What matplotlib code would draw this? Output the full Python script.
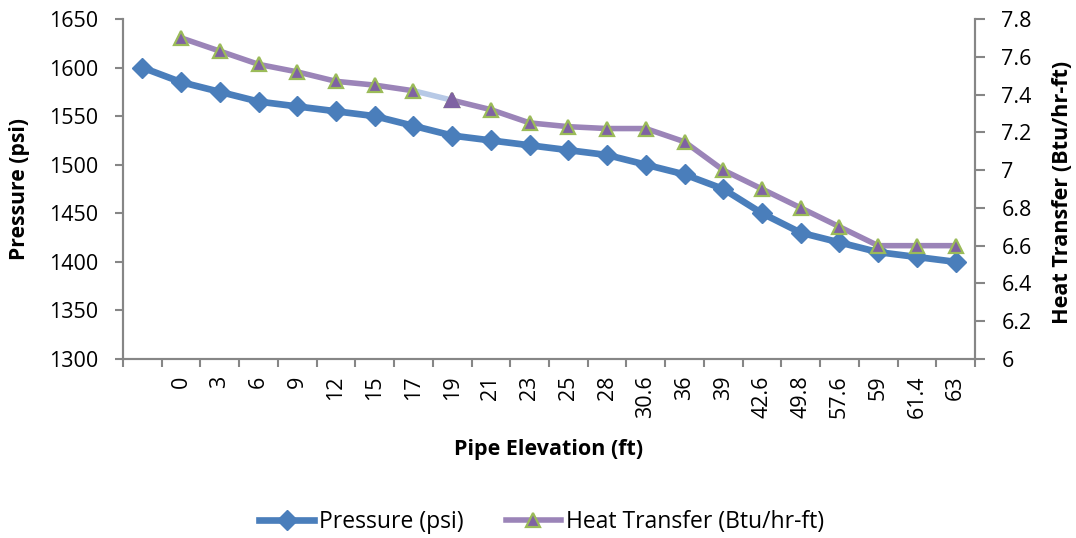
import numpy as np
import matplotlib
matplotlib.use("Agg")
import matplotlib.pyplot as plt
from matplotlib.lines import Line2D

plt.rcParams['font.family'] = ['Open Sans', 'DejaVu Sans']

# Pipe elevation categories (first category is unlabeled)
elevations = ["", "0", "3", "6", "9", "12", "15", "17", "19", "21", "23", "25",
              "28", "30.6", "36", "39", "42.6", "49.8", "57.6", "59", "61.4", "63"]

pressure = [1600, 1585, 1575, 1565, 1560, 1555, 1550, 1540, 1530, 1525, 1520,
            1515, 1510, 1500, 1490, 1475, 1450, 1430, 1420, 1410, 1405, 1400]

heat_transfer = [np.nan, 7.70, 7.63, 7.56, 7.52, 7.47, 7.45, 7.42, 7.37, 7.32, 7.25,
                 7.23, 7.22, 7.22, 7.15, 7.00, 6.90, 6.80, 6.70, 6.60, 6.60, 6.60]

pressure_ticks = [1300, 1350, 1400, 1450, 1500, 1550, 1600, 1650]
heat_ticks = [6, 6.2, 6.4, 6.6, 6.8, 7, 7.2, 7.4, 7.6, 7.8]
heat_tick_labels = ["6", "6.2", "6.4", "6.6", "6.8", "7", "7.2", "7.4", "7.6", "7.8"]

BLUE = "#4a7ebb"
PURPLE_LINE = "#9b84b8"
PURPLE_FILL = "#7f62a3"
GREEN = "#9bbb59"
LIGHT_BLUE = "#b7c9e6"
AXIS_GRAY = "#868686"

TICK_FS = 15.5

fig = plt.figure(figsize=(10.76, 5.38), dpi=100)
ax = fig.add_axes([123 / 1076, 1 - 359 / 538, (975 - 123) / 1076, (359 - 19) / 538])
ax2 = ax.twinx()

x = np.arange(len(elevations))
heat = np.array(heat_transfer)

# Pressure series
ax.plot(x, pressure, color=BLUE, lw=4.8, marker="D", markersize=10,
        markerfacecolor=BLUE, markeredgecolor=BLUE, solid_joinstyle="round",
        zorder=3)

# Heat transfer series: highlighted segment between 17 ft and 19 ft
hi = elevations.index("19")
ax2.plot(x[hi - 1:hi + 1], heat[hi - 1:hi + 1], color=LIGHT_BLUE, lw=4, zorder=2,
         solid_capstyle="butt")
for seg in (slice(0, hi), slice(hi, None)):
    ax2.plot(x[seg], heat[seg], color=PURPLE_LINE, lw=4, marker="^", markersize=10,
             markerfacecolor=PURPLE_FILL, markeredgecolor=GREEN, markeredgewidth=1.6,
             solid_joinstyle="round", zorder=3)
ax2.plot(x[hi], heat[hi], marker="^", markersize=10, markerfacecolor=PURPLE_FILL,
         markeredgecolor=PURPLE_FILL, markeredgewidth=1.6, zorder=4)

# Axes limits and ticks
ax.set_xlim(-0.5, len(elevations) - 0.5)
ax.set_ylim(1300, 1650)
ax2.set_ylim(6, 7.8)
ax.set_yticks(pressure_ticks)
ax2.set_yticks(heat_ticks)
ax2.set_yticklabels(heat_tick_labels)

# Tick marks between categories, labels centred on each category
ax.set_xticks(np.arange(-0.5, len(elevations), 1.0))
ax.set_xticklabels([])
ax.set_xticks(x, minor=True)
ax.set_xticklabels(elevations, minor=True, rotation=90, va="top", ha="center")

for a in (ax, ax2):
    a.spines["top"].set_visible(False)
    for side in ("left", "right", "bottom"):
        a.spines[side].set_color(AXIS_GRAY)
        a.spines[side].set_linewidth(1.5)

ax.tick_params(axis="y", which="major", direction="out", length=6, width=1.5,
               color=AXIS_GRAY, labelsize=TICK_FS, labelcolor="black", pad=12)
ax2.tick_params(axis="y", which="major", direction="out", length=7, width=1.5,
                color=AXIS_GRAY, labelsize=TICK_FS, labelcolor="black", pad=12)
ax.tick_params(axis="x", which="major", direction="out", length=6, width=1.5,
               color=AXIS_GRAY)
ax.tick_params(axis="x", which="minor", length=0, pad=12, labelsize=TICK_FS)

# Axis titles
ax.set_xlabel("Pipe Elevation (ft)", fontsize=15.5, fontweight="bold")
ax.xaxis.set_label_coords(0.5, (359 - 450) / 340)
ax.xaxis.label.set_va("center")

ax.set_ylabel("Pressure (psi)", fontsize=15.2, fontweight="bold")
ax.yaxis.set_label_coords((20 - 123) / 852, 0.5)
ax.yaxis.label.set_va("center")

ax2.set_ylabel("Heat Transfer (Btu/hr-ft)", fontsize=15.6, fontweight="bold")
ax2.yaxis.set_label_coords((1063 - 123) / 852, (359 - 192) / 340)
ax2.yaxis.label.set_va("center")

# Legend below the plot
handles = [
    Line2D([], [], color=BLUE, lw=4.8, marker="D", markersize=10,
           markerfacecolor=BLUE, markeredgecolor=BLUE),
    Line2D([], [], color=PURPLE_LINE, lw=4, marker="^", markersize=10,
           markerfacecolor=PURPLE_FILL, markeredgecolor=GREEN, markeredgewidth=1.6),
]
fig.legend(handles, ["Pressure (psi)", "Heat Transfer (Btu/hr-ft)"],
           loc="center", bbox_to_anchor=(541.5 / 1076, 1 - 522 / 538), ncol=2,
           frameon=False, fontsize=16.5, handlelength=2.4, handletextpad=0.2,
           columnspacing=1.85, borderpad=0)

fig.savefig("out.png", dpi=100)
